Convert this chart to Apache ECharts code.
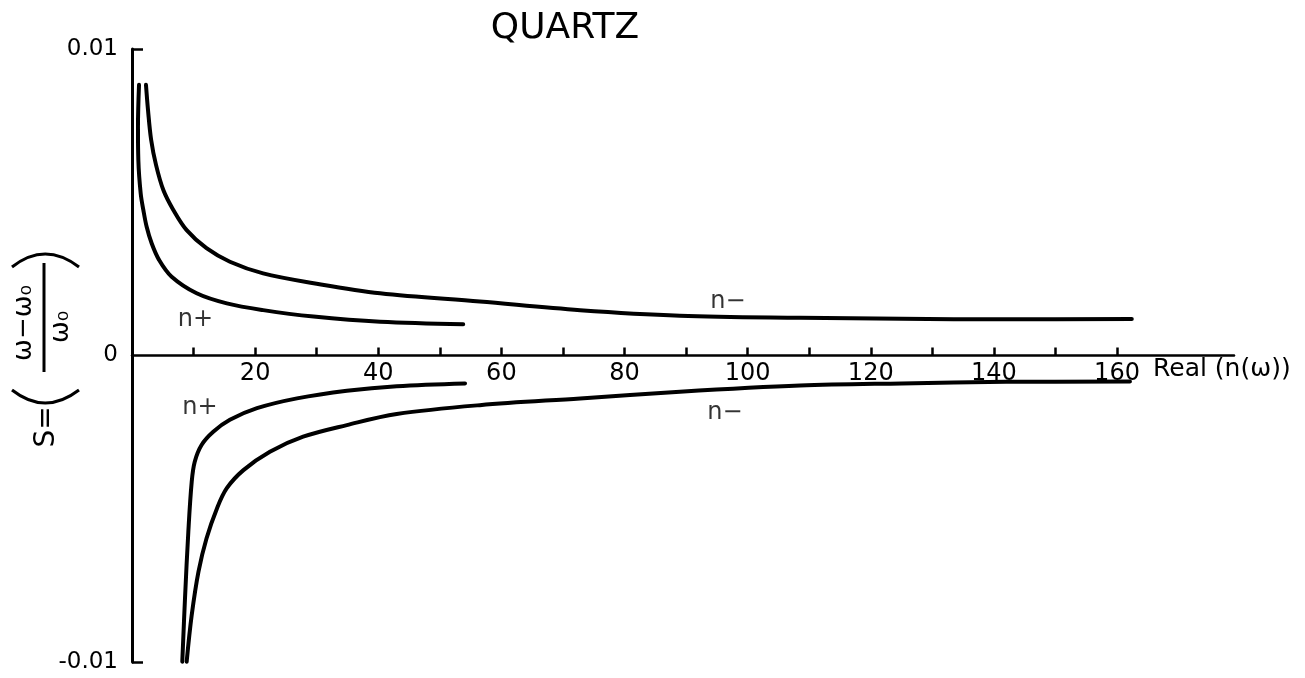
<!DOCTYPE html>
<html>
<head>
<meta charset="utf-8">
<script src="https://cdn.jsdelivr.net/npm/echarts@6/dist/echarts.min.js"></script>
<style>
  html, body { margin: 0; padding: 0; background: #fff; }
  #chart { width: 1305px; height: 678px; }
</style>
</head>
<body>
<div id="chart"></div>
<script>
// Frequency shift S = (w - w0)/w0 against the real part of the refractive index, quartz
const xTickValues = [10, 20, 30, 40, 50, 60, 70, 80, 90, 100, 110, 120, 130, 140, 150, 160];
const xLabelValues = [20, 40, 60, 80, 100, 120, 140, 160];
const yLabelValues = [-0.01, 0, 0.01];
const yLabelTexts = ['-0.01', '0', '0.01'];
const yTickValues = [-0.01, 0.01];

// [Real(n), S] pairs
const nPlusUpper = [
  [1.14, 0.00883], [0.97, 0.00746], [1.03, 0.00638], [1.41, 0.00529], [1.84, 0.00475],
  [2.38, 0.0042], [3.19, 0.00366], [4.39, 0.00312], [6.44, 0.00257], [10.5, 0.00203],
  [15.4, 0.0017], [21.3, 0.00148], [29.5, 0.00127], [40.3, 0.0011], [53.8, 0.00102]
];
const nMinusUpper = [
  [2.27, 0.00883], [2.6, 0.00801], [3.1, 0.00705], [3.9, 0.00622], [5.09, 0.0054],
  [6.71, 0.00475], [8.88, 0.00409], [12.1, 0.0035], [15.9, 0.00306], [21.3, 0.00268],
  [29.5, 0.00236], [40.3, 0.00203], [56.5, 0.00176], [72.8, 0.00148], [89.0, 0.0013],
  [108.5, 0.00123], [125.0, 0.0012], [142.0, 0.00118], [162.4, 0.00119]
];
const nPlusLower = [
  [8.17, -0.00999], [8.61, -0.00792], [9.15, -0.00575], [9.7, -0.00412], [10.2, -0.00346],
  [11.3, -0.00292], [13.2, -0.00249], [15.9, -0.0021], [20.3, -0.00172], [26.8, -0.0014],
  [34.9, -0.00115], [43.0, -0.001], [54.1, -0.00091]
];
const nMinusLower = [
  [8.88, -0.00999], [9.7, -0.00847], [10.8, -0.00705], [12.1, -0.00597], [13.8, -0.00499],
  [15.4, -0.00433], [18.1, -0.00374], [22.4, -0.00314], [27.8, -0.00265], [34.9, -0.00227],
  [43.0, -0.00191], [56.5, -0.00162], [72.8, -0.0014], [89.0, -0.00118], [108.5, -0.00098],
  [125.0, -0.00091], [142.0, -0.00086], [162.1, -0.00085]
];

// branch labels placed in data coordinates
const branchLabels = [
  { name: 'n+', value: [10.3, 0.00115] },
  { name: 'n+', value: [11.05, -0.0017] },
  { name: 'n\u2212', value: [96.8, 0.00174] },
  { name: 'n\u2212', value: [96.3, -0.00187] }
];

const FONT = '"DejaVu Sans", sans-serif';
const X_MAX = 179;
const chart = echarts.init(document.getElementById('chart'), null, { renderer: 'canvas' });

const curveStyle = { color: '#000', width: 4, cap: 'round', join: 'round' };
function curve(data, idx) {
  return {
    type: 'line', data: data, smooth: 0.35, showSymbol: false, symbol: 'none',
    xAxisIndex: idx, yAxisIndex: idx,
    lineStyle: curveStyle, silent: true, emphasis: { disabled: true }
  };
}
function labelSeries(items, idx) {
  return {
    type: 'scatter', data: items, symbolSize: 0, silent: true,
    xAxisIndex: idx, yAxisIndex: idx,
    label: { show: true, position: 'inside', formatter: function (p) { return p.name; },
             color: '#000', fontFamily: FONT, fontSize: 24 }
  };
}
function yLabelFormatter(v) {
  const i = yLabelValues.findIndex(function (u) { return Math.abs(u - v) < 1e-9; });
  return i >= 0 ? yLabelTexts[i] : '';
}
function yAxisFor(idx, min, max) {
  const inRange = function (v) { return v >= min - 1e-12 && v <= max + 1e-12; };
  const labels = yLabelValues.filter(inRange);
  // the shared zero label is written once, by the upper half
  const shown = idx === 0 ? labels : labels.filter(function (v) { return v !== 0; });
  return {
    type: 'value', gridIndex: idx, min: min, max: max, interval: 0.01,
    splitLine: { show: false },
    axisLine: { onZero: false, lineStyle: { color: '#000', width: 3 } },
    axisTick: { show: true, inside: true, length: 11, customValues: yTickValues.filter(inRange),
                lineStyle: { color: '#000', width: 2.5 } },
    axisLabel: { customValues: shown, color: '#000', fontFamily: FONT, fontSize: 23, margin: 14,
                 formatter: yLabelFormatter }
  };
}

function txt(x, y, text, size, align) {
  const a = align || 'center';
  return {
    type: 'text', x: x, y: y,
    style: {
      text: text, font: size + 'px ' + FONT, fill: '#000',
      align: a, verticalAlign: 'middle', textAlign: a, textVerticalAlign: 'middle'
    }
  };
}

chart.setOption({
  backgroundColor: '#fff',
  animation: false,
  // upper half (S > 0) and lower half (S < 0) share the zero line
  grid: [
    { left: 132, top: 49, right: 71, bottom: 322.5 },
    { left: 132, top: 355.5, right: 71, bottom: 16 }
  ],
  xAxis: [
    {
      type: 'value', gridIndex: 0, min: 0, max: X_MAX, interval: 10, position: 'bottom',
      splitLine: { show: false },
      axisLine: { onZero: false, lineStyle: { color: '#000', width: 2.5 } },
      axisTick: { show: true, inside: true, length: 8, customValues: xTickValues,
                  lineStyle: { color: '#000', width: 2.5 } },
      axisLabel: { customValues: xLabelValues, color: '#000', fontFamily: FONT, fontSize: 24, margin: 6 }
    },
    { type: 'value', gridIndex: 1, min: 0, max: X_MAX, interval: 10, show: false }
  ],
  yAxis: [ yAxisFor(0, 0, 0.01), yAxisFor(1, -0.01, 0) ],
  series: [
    curve(nPlusUpper, 0),
    curve(nMinusUpper, 0),
    curve(nPlusLower, 1),
    curve(nMinusLower, 1),
    labelSeries(branchLabels.filter(function (d) { return d.value[1] > 0; }), 0),
    labelSeries(branchLabels.filter(function (d) { return d.value[1] < 0; }), 1)
  ],
  graphic: [
    txt(565, 29, 'QUARTZ', 36),
    txt(1153, 369, 'Real (n(\u03c9))', 25, 'left'),
    {
      type: 'group', x: 45, y: 330, rotation: Math.PI / 2,
      children: [
        txt(-97, 2, 'S=', 28),
        txt(7, -21, '\u03c9\u2212\u03c9\u2080', 26),
        { type: 'line', shape: { x1: -42, y1: -1, x2: 67, y2: -1 },
          style: { stroke: '#000', lineWidth: 3 } },
        txt(3, 16, '\u03c9\u2080', 26),
        { type: 'bezierCurve', shape: { x1: -60, y1: -33, x2: -60, y2: 34, cpx1: -86, cpy1: 0 },
          style: { stroke: '#000', lineWidth: 3, fill: null } },
        { type: 'bezierCurve', shape: { x1: 63, y1: -33, x2: 63, y2: 34, cpx1: 89, cpy1: 0 },
          style: { stroke: '#000', lineWidth: 3, fill: null } }
      ]
    }
  ]
});
</script>
</body>
</html>
